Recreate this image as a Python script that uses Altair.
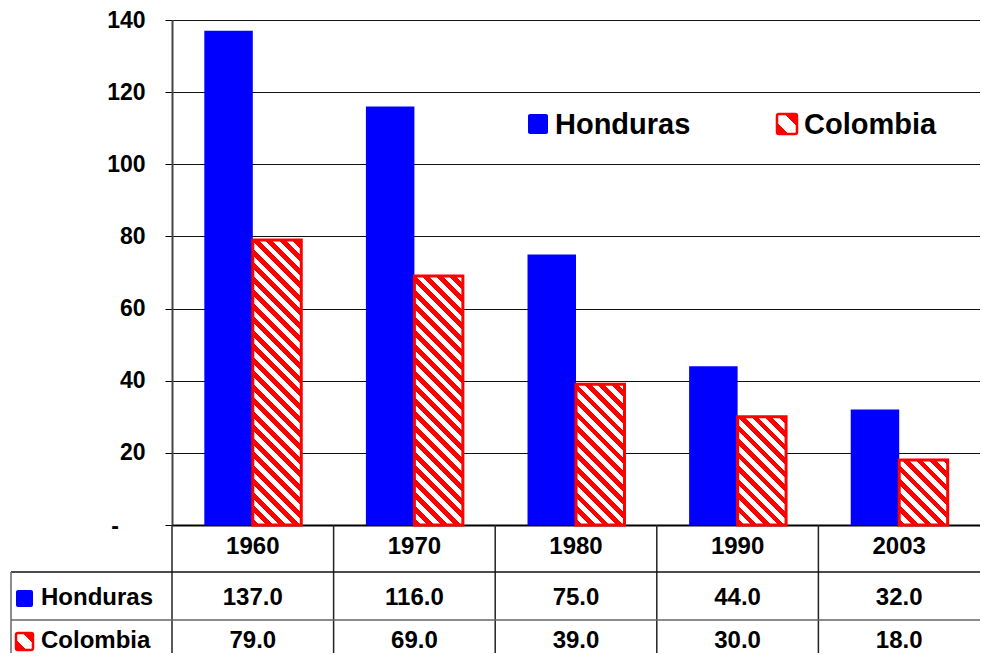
import altair as alt
import pandas as pd

# ---- data ----
years = ["1960", "1970", "1980", "1990", "2003"]
honduras = [137.0, 116.0, 75.0, 44.0, 32.0]
colombia = [79.0, 69.0, 39.0, 30.0, 18.0]
series = ["Honduras", "Colombia"]
y_ticks = [0, 20, 40, 60, 80, 100, 120, 140]
zero_label = ["-"]

# ---- style ----
BLUE = "#0000FF"
RED = "#FF0000"
FONT = "Liberation Sans"
W, H, YMAX = 808, 505, 140
STEP = W / len(years)
BAR_W = STEP * 0.6 / 2
TFS = 24  # table font size

rows = []
for i, yr in enumerate(years):
    rows.append({"year": yr, "series": series[0], "value": honduras[i]})
    rows.append({"year": yr, "series": series[1], "value": colombia[i]})
df = pd.DataFrame(rows)
wide = pd.DataFrame({"year": years, "Honduras": honduras, "Colombia": colombia})
sdf = pd.DataFrame({"series": series})
zdf = pd.DataFrame({"label": zero_label})


def hatch(w, h, period=13.5, red_frac=0.5):
    L = w + h
    t = L / (w * w + h * h)
    stops = []
    k = 0
    while k * period < L:
        a = round(k * period / L, 5)
        b = round(min((k * period + red_frac * period) / L, 1.0), 5)
        c = round(min((k + 1) * period / L, 1.0), 5)
        stops += [
            alt.GradientStop(color=RED, offset=a),
            alt.GradientStop(color=RED, offset=b),
            alt.GradientStop(color="white", offset=b),
            alt.GradientStop(color="white", offset=c),
        ]
        k += 1
    return alt.LinearGradient(gradient="linear", stops=stops,
                              x1=0, y1=1, x2=t * w, y2=1 - t * h)


swatch_grad = alt.LinearGradient(
    gradient="linear",
    stops=[alt.GradientStop(color=RED, offset=0), alt.GradientStop(color=RED, offset=0.3),
           alt.GradientStop(color="white", offset=0.3), alt.GradientStop(color="white", offset=0.7),
           alt.GradientStop(color=RED, offset=0.7), alt.GradientStop(color=RED, offset=1)],
    x1=0, y1=1, x2=1, y2=0)

x_enc = alt.X("year:N", sort=years,
              scale=alt.Scale(domain=years, paddingInner=0.4, paddingOuter=0.2),
              axis=alt.Axis(labels=False, ticks=False, title=None, grid=False,
                            domainColor="black", domainWidth=2))
xo_enc = alt.XOffset("series:N", scale=alt.Scale(domain=series, paddingInner=0, paddingOuter=0))
y_enc = alt.Y("value:Q", scale=alt.Scale(domain=[0, YMAX], nice=False),
              axis=alt.Axis(values=y_ticks, title=None,
                            labelExpr="datum.value == 0 ? '' : datum.label",
                            labelFont=FONT, labelFontSize=23, labelFontWeight="bold",
                            labelColor="black", labelPadding=20,
                            tickSize=7, tickColor="black", tickWidth=1,
                            domainColor="#444", domainWidth=2,
                            grid=True, gridColor="#111", gridWidth=1))

layers = []
# Honduras bars
layers.append(
    alt.Chart(df).transform_filter(f"datum.series == '{series[0]}'")
    .mark_bar(color=BLUE).encode(x=x_enc, xOffset=xo_enc, y=y_enc)
)
# Colombia bars (hatched)
for i, yr in enumerate(years):
    h = colombia[i] * H / YMAX
    layers.append(
        alt.Chart(df).transform_filter(f"datum.series == '{series[1]}' && datum.year == '{yr}'")
        .mark_bar(fill=hatch(BAR_W, h), stroke=RED, strokeWidth=3)
        .encode(x=x_enc, xOffset=xo_enc, y=y_enc)
    )

# "-" label for the zero tick
layers.append(
    alt.Chart(zdf).mark_text(font=FONT, fontSize=23, fontWeight="bold", align="center",
                             baseline="middle", color="black")
    .encode(x=alt.value(-57), y=alt.value(H + 2), text="label:N")
)

# in-plot legend
leg_pos = {series[0]: (356, 376, 383), series[1]: (605, 625, 632)}
for s in series:
    x0, x1, xt = leg_pos[s]
    fill = BLUE if s == series[0] else swatch_grad
    stroke_kw = {} if s == series[0] else {"stroke": RED, "strokeWidth": 2.5}
    layers.append(
        alt.Chart(sdf).transform_filter(f"datum.series == '{s}'")
        .mark_rect(fill=fill, cornerRadius=2, **stroke_kw)
        .encode(x=alt.value(x0), x2=alt.value(x1), y=alt.value(94), y2=alt.value(114))
    )
    layers.append(
        alt.Chart(sdf).transform_filter(f"datum.series == '{s}'")
        .mark_text(font=FONT, fontSize=29, fontWeight="bold", align="left",
                   baseline="middle", color="black")
        .encode(x=alt.value(xt), y=alt.value(105), text="series:N")
    )

# ---- data table ----
# column separators
layers.append(
    alt.Chart(wide).mark_rule(color="#222", strokeWidth=1.5, xOffset=-STEP / 2)
    .encode(x=x_enc, y=alt.value(H), y2=alt.value(H + 160))
)
# horizontal row lines
for yy, col in [(552, "#111"), (600, "#666")]:
    layers.append(
        alt.Chart(sdf.head(1)).mark_rule(color=col, strokeWidth=1.5)
        .encode(x=alt.value(-161), x2=alt.value(W + 10), y=alt.value(yy))
    )
# left border of row-label column
layers.append(
    alt.Chart(sdf.head(1)).mark_rule(color="#666", strokeWidth=1.5)
    .encode(x=alt.value(-161), y=alt.value(552), y2=alt.value(H + 160))
)
# header (years)
layers.append(
    alt.Chart(wide).mark_text(font=FONT, fontSize=TFS, fontWeight="bold", baseline="middle",
                              align="center", color="black")
    .encode(x=x_enc, y=alt.value(527), text="year:N")
)
# value rows
row_y = {series[0]: 578, series[1]: 621}
for s in series:
    layers.append(
        alt.Chart(wide).mark_text(font=FONT, fontSize=TFS, fontWeight="bold", baseline="middle",
                                  align="center", color="black")
        .encode(x=x_enc, y=alt.value(row_y[s]), text=alt.Text(f"{s}:Q", format=".1f"))
    )
    fill = BLUE if s == series[0] else swatch_grad
    stroke_kw = {} if s == series[0] else {"stroke": RED, "strokeWidth": 2.5}
    layers.append(
        alt.Chart(sdf).transform_filter(f"datum.series == '{s}'")
        .mark_rect(fill=fill, cornerRadius=2, **stroke_kw)
        .encode(x=alt.value(-156), x2=alt.value(-139),
                y=alt.value(row_y[s] - 8), y2=alt.value(row_y[s] + 9))
    )
    layers.append(
        alt.Chart(sdf).transform_filter(f"datum.series == '{s}'")
        .mark_text(font=FONT, fontSize=TFS, fontWeight="bold", align="left",
                   baseline="middle", color="black")
        .encode(x=alt.value(-131), y=alt.value(row_y[s]), text="series:N")
    )

chart = alt.layer(*layers).properties(
    width=W, height=H,
    autosize=alt.AutoSizeParams(type="none"),
    padding={"left": 164, "top": 12, "right": 0, "bottom": 128},
    background="white",
).configure_view(stroke=None)

chart.save("out.html", embed_options={"renderer": "svg", "actions": False})
